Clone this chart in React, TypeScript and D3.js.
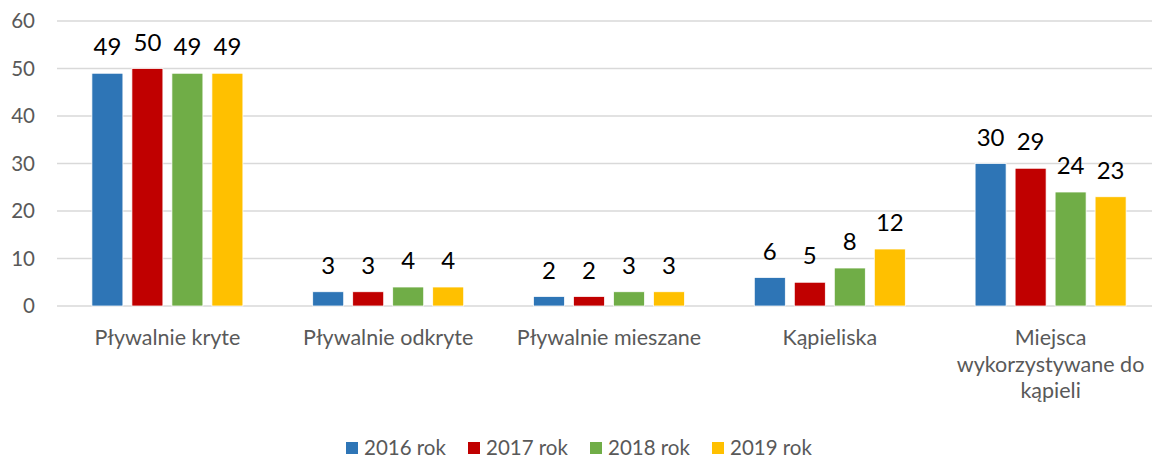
import * as d3 from 'd3';

const categories = [
  'Pływalnie kryte',
  'Pływalnie odkryte',
  'Pływalnie mieszane',
  'Kąpieliska',
  'Miejsca wykorzystywane do kąpieli',
];
const seriesNames = ['2016 rok', '2017 rok', '2018 rok', '2019 rok'];
const colors = ['#2E75B6', '#C00000', '#70AD47', '#FFC000'];
const values2016 = [49, 3, 2, 6, 30];
const values2017 = [50, 3, 2, 5, 29];
const values2018 = [49, 4, 3, 8, 24];
const values2019 = [49, 4, 3, 12, 23];
const yTicks = [0, 10, 20, 30, 40, 50, 60];

const series = [values2016, values2017, values2018, values2019];

const W = 1152;
const H = 459;
const FONT = 'Lato, sans-serif';

function wrap(label: string, max: number) {
  const words = label.split(' ');
  const lines: string[] = [];
  let cur = '';
  words.forEach(w => {
    const next = cur ? cur + ' ' + w : w;
    if (next.length > max && cur) {
      lines.push(cur);
      cur = w;
    } else {
      cur = next;
    }
  });
  if (cur) lines.push(cur);
  return lines;
}

export default function App() {
  const y = d3.scaleLinear().domain([0, 60]).range([306, 21]);
  const x0 = d3.scaleBand<string>().domain(categories).range([57, 1161]).padding(0);
  const groupW = 151;
  const x1 = d3.scaleBand<number>().domain(d3.range(seriesNames.length)).range([0, groupW]).paddingInner(0.225);
  const off = (x0.bandwidth() - groupW) / 2;

  return (
    <div style={{ position: 'fixed', left: 0, top: 0 }}>
      <svg width={W} height={H} style={{ display: 'block', fontFamily: FONT }}>
        <rect width={W} height={H} fill="#fff" />
        {yTicks.map(t => (
          <g key={t}>
            <line x1={57} x2={W} y1={y(t)} y2={y(t)} stroke="#d9d9d9" strokeWidth={1.5} />
            <text x={35} y={y(t)} dy="0.36em" textAnchor="end" fill="#595959" fontSize={20.5}>
              {t}
            </text>
          </g>
        ))}
        {categories.map((c, ci) => (
          <g key={c} transform={`translate(${x0(c)! + off},0)`}>
            {series.map((vals, si) => (
              <g key={si}>
                <rect
                  x={x1(si)}
                  y={y(vals[ci])}
                  width={x1.bandwidth()}
                  height={y(0) - y(vals[ci])}
                  fill={colors[si]}
                  stroke="#fff"
                  strokeWidth={0.75}
                />
                <text
                  x={x1(si)! + x1.bandwidth() / 2}
                  y={y(vals[ci]) - 18}
                  textAnchor="middle"
                  fill="#000"
                  fontSize={24}
                >
                  {vals[ci]}
                </text>
              </g>
            ))}
          </g>
        ))}
        {categories.map(c => {
          const lines = wrap(c, 20);
          return (
            <text
              key={c}
              x={x0(c)! + x0.bandwidth() / 2}
              y={345}
              textAnchor="middle"
              fill="#595959"
              fontSize={21.5}
            >
              {lines.map((l, i) => (
                <tspan key={i} x={x0(c)! + x0.bandwidth() / 2} dy={i === 0 ? 0 : 26.5}>
                  {l}
                </tspan>
              ))}
            </text>
          );
        })}
        {seriesNames.map((s, i) => (
          <g key={s} transform={`translate(${346 + i * 122},0)`}>
            <rect x={0} y={442} width={12} height={12} fill={colors[i]} />
            <text x={18} y={455} fill="#595959" fontSize={20.5}>
              {s}
            </text>
          </g>
        ))}
      </svg>
    </div>
  );
}
